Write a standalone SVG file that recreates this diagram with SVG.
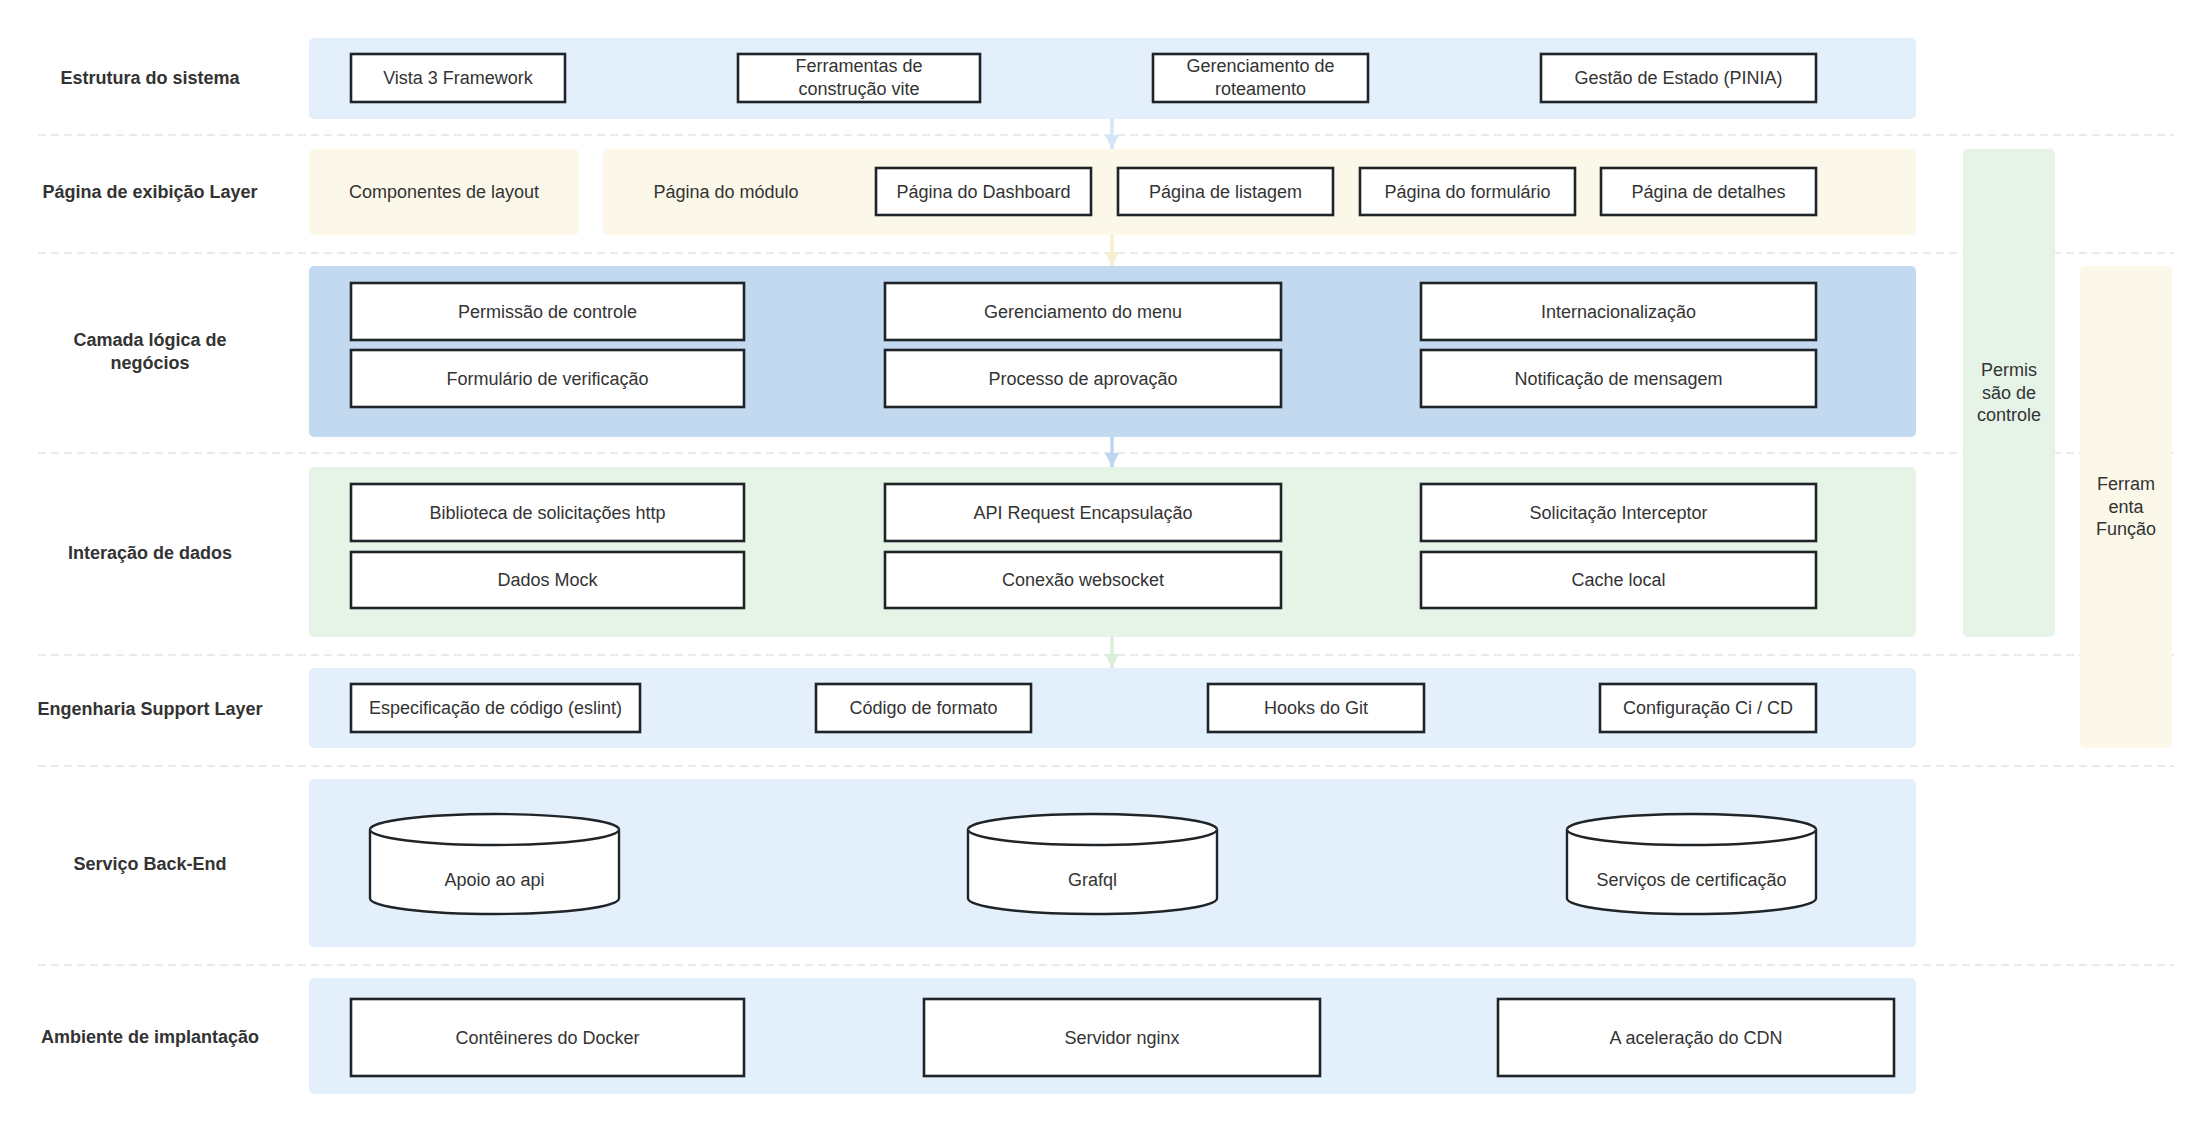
<svg xmlns="http://www.w3.org/2000/svg" width="2211" height="1132" viewBox="0 0 2211 1132">
<defs>
<style>
.lbl{font-family:"Liberation Sans",Arial,sans-serif;font-size:18px;font-weight:bold;fill:#333;text-anchor:middle;dominant-baseline:central}
.t{font-family:"Liberation Sans",Arial,sans-serif;font-size:18px;fill:#333;text-anchor:middle;dominant-baseline:central}
.box{fill:#fff;stroke:#1f2428;stroke-width:2.6}
.cyl{fill:#fff;stroke:#1f2428;stroke-width:2.4}
.dash{stroke:#e3e3e3;stroke-width:1.5;stroke-dasharray:8 5;fill:none}
.blue{fill:#e3f0fc}
.yellow{fill:#fbf8ea}
.dblue{fill:#c3d9f0}
.green{fill:#e6f4e7}
.arr{fill:none;stroke-width:3.5}
</style>
<marker id="mA1" viewBox="0 0 10 10" refX="10" refY="5" markerWidth="4" markerHeight="4" orient="auto" markerUnits="strokeWidth"><path d="M0,0 L10,5 L0,10 Z" fill="#d3e7f9"/></marker>
<marker id="mA2" viewBox="0 0 10 10" refX="10" refY="5" markerWidth="4" markerHeight="4" orient="auto" markerUnits="strokeWidth"><path d="M0,0 L10,5 L0,10 Z" fill="#f6efd2"/></marker>
<marker id="mA3" viewBox="0 0 10 10" refX="10" refY="5" markerWidth="4" markerHeight="4" orient="auto" markerUnits="strokeWidth"><path d="M0,0 L10,5 L0,10 Z" fill="#bcd6f0"/></marker>
<marker id="mA4" viewBox="0 0 10 10" refX="10" refY="5" markerWidth="4" markerHeight="4" orient="auto" markerUnits="strokeWidth"><path d="M0,0 L10,5 L0,10 Z" fill="#d9eedb"/></marker>
</defs>
<rect width="2211" height="1132" fill="#fff"/>

<g id="separators">
<line class="dash" x1="38" y1="135" x2="2174" y2="135"/>
<line class="dash" x1="38" y1="253" x2="2174" y2="253"/>
<line class="dash" x1="38" y1="453" x2="2174" y2="453"/>
<line class="dash" x1="38" y1="655" x2="2174" y2="655"/>
<line class="dash" x1="38" y1="766" x2="2174" y2="766"/>
<line class="dash" x1="38" y1="965" x2="2174" y2="965"/>
</g>

<g id="labels">
<text class="lbl" x="150" y="78">Estrutura do sistema</text>
<text class="lbl" x="150" y="192">Página de exibição Layer</text>
<text class="lbl" x="150" y="340">Camada lógica de</text>
<text class="lbl" x="150" y="363">negócios</text>
<text class="lbl" x="150" y="553">Interação de dados</text>
<text class="lbl" x="150" y="709">Engenharia Support Layer</text>
<text class="lbl" x="150" y="864">Serviço Back-End</text>
<text class="lbl" x="150" y="1037">Ambiente de implantação</text>
</g>

<g id="band-estrutura">
<rect class="blue" x="309" y="38" width="1607" height="81" rx="5"/>
</g>
<g id="band-layout">
<rect class="yellow" x="309" y="149" width="270" height="86" rx="5"/>
<text class="t" x="444" y="192">Componentes de layout</text>
</g>
<g id="band-modulo">
<rect class="yellow" x="603" y="149" width="1313" height="86" rx="5"/>
<text class="t" x="726" y="192">Página do módulo</text>
</g>
<g id="band-logica">
<rect class="dblue" x="309" y="266" width="1607" height="171" rx="5"/>
</g>
<g id="band-dados">
<rect class="green" x="309" y="467" width="1607" height="170" rx="5"/>
</g>
<g id="band-engenharia">
<rect class="blue" x="309" y="668" width="1607" height="80" rx="5"/>
</g>
<g id="band-backend">
<rect class="blue" x="309" y="779" width="1607" height="168" rx="5"/>
</g>
<g id="band-ambiente">
<rect class="blue" x="309" y="978" width="1607" height="116" rx="5"/>
</g>
<g id="side-permissao">
<rect class="green" x="1963" y="149" width="92" height="488" rx="5"/>
<text class="t" x="2009" y="370">Permis</text>
<text class="t" x="2009" y="393">são de</text>
<text class="t" x="2009" y="415">controle</text>
</g>
<g id="side-ferramenta">
<rect class="yellow" x="2080" y="266" width="92" height="482" rx="5"/>
<text class="t" x="2126" y="484">Ferram</text>
<text class="t" x="2126" y="507">enta</text>
<text class="t" x="2126" y="529">Função</text>
</g>

<g id="connectors">
<path class="arr" stroke="#d3e7f9" d="M1112,119 L1112,149" marker-end="url(#mA1)"/>
<path class="arr" stroke="#f6efd2" d="M1112,235 L1112,266" marker-end="url(#mA2)"/>
<path class="arr" stroke="#bcd6f0" d="M1112,437 L1112,467" marker-end="url(#mA3)"/>
<path class="arr" stroke="#d9eedb" d="M1112,637 L1112,668" marker-end="url(#mA4)"/>
</g>

<g id="n-vista"><rect class="box" x="351" y="54" width="214" height="48"/><text class="t" x="458" y="78">Vista 3 Framework</text></g>
<g id="n-vite"><rect class="box" x="738" y="54" width="242" height="48"/><text class="t" x="859" y="66">Ferramentas de</text><text class="t" x="859" y="89">construção vite</text></g>
<g id="n-rota"><rect class="box" x="1153" y="54" width="215" height="48"/><text class="t" x="1260.5" y="66">Gerenciamento de</text><text class="t" x="1260.5" y="89">roteamento</text></g>
<g id="n-pinia"><rect class="box" x="1541" y="54" width="275" height="48"/><text class="t" x="1678.5" y="78">Gestão de Estado (PINIA)</text></g>

<g id="n-dashboard"><rect class="box" x="876" y="168" width="215" height="47"/><text class="t" x="983.5" y="191.5">Página do Dashboard</text></g>
<g id="n-listagem"><rect class="box" x="1118" y="168" width="215" height="47"/><text class="t" x="1225.5" y="191.5">Página de listagem</text></g>
<g id="n-formulario"><rect class="box" x="1360" y="168" width="215" height="47"/><text class="t" x="1467.5" y="191.5">Página do formulário</text></g>
<g id="n-detalhes"><rect class="box" x="1601" y="168" width="215" height="47"/><text class="t" x="1708.5" y="191.5">Página de detalhes</text></g>

<g id="n-permissao"><rect class="box" x="351" y="283" width="393" height="57"/><text class="t" x="547.5" y="311.5">Permissão de controle</text></g>
<g id="n-menu"><rect class="box" x="885" y="283" width="396" height="57"/><text class="t" x="1083" y="311.5">Gerenciamento do menu</text></g>
<g id="n-i18n"><rect class="box" x="1421" y="283" width="395" height="57"/><text class="t" x="1618.5" y="311.5">Internacionalização</text></g>
<g id="n-verificacao"><rect class="box" x="351" y="350" width="393" height="57"/><text class="t" x="547.5" y="378.5">Formulário de verificação</text></g>
<g id="n-aprovacao"><rect class="box" x="885" y="350" width="396" height="57"/><text class="t" x="1083" y="378.5">Processo de aprovação</text></g>
<g id="n-notificacao"><rect class="box" x="1421" y="350" width="395" height="57"/><text class="t" x="1618.5" y="378.5">Notificação de mensagem</text></g>

<g id="n-http"><rect class="box" x="351" y="484" width="393" height="57"/><text class="t" x="547.5" y="512.5">Biblioteca de solicitações http</text></g>
<g id="n-api"><rect class="box" x="885" y="484" width="396" height="57"/><text class="t" x="1083" y="512.5">API Request Encapsulação</text></g>
<g id="n-interceptor"><rect class="box" x="1421" y="484" width="395" height="57"/><text class="t" x="1618.5" y="512.5">Solicitação Interceptor</text></g>
<g id="n-mock"><rect class="box" x="351" y="552" width="393" height="56"/><text class="t" x="547.5" y="580">Dados Mock</text></g>
<g id="n-websocket"><rect class="box" x="885" y="552" width="396" height="56"/><text class="t" x="1083" y="580">Conexão websocket</text></g>
<g id="n-cache"><rect class="box" x="1421" y="552" width="395" height="56"/><text class="t" x="1618.5" y="580">Cache local</text></g>

<g id="n-eslint"><rect class="box" x="351" y="684" width="289" height="48"/><text class="t" x="495.5" y="708">Especificação de código (eslint)</text></g>
<g id="n-formato"><rect class="box" x="816" y="684" width="215" height="48"/><text class="t" x="923.5" y="708">Código de formato</text></g>
<g id="n-hooks"><rect class="box" x="1208" y="684" width="216" height="48"/><text class="t" x="1316" y="708">Hooks do Git</text></g>
<g id="n-cicd"><rect class="box" x="1600" y="684" width="216" height="48"/><text class="t" x="1708" y="708">Configuração Ci / CD</text></g>

<g id="n-apoio">
<path class="cyl" d="M370,829.5 L370,898.5 A124.5,15.5 0 0 0 619,898.5 L619,829.5 A124.5,15.5 0 0 0 370,829.5 Z"/>
<path class="cyl" fill="none" d="M370,829.5 A124.5,15.5 0 0 0 619,829.5"/>
<text class="t" x="494.5" y="880">Apoio ao api</text>
</g>
<g id="n-grafql">
<path class="cyl" d="M968,829.5 L968,898.5 A124.5,15.5 0 0 0 1217,898.5 L1217,829.5 A124.5,15.5 0 0 0 968,829.5 Z"/>
<path class="cyl" fill="none" d="M968,829.5 A124.5,15.5 0 0 0 1217,829.5"/>
<text class="t" x="1092.5" y="880">Grafql</text>
</g>
<g id="n-certificacao">
<path class="cyl" d="M1567,829.5 L1567,898.5 A124.5,15.5 0 0 0 1816,898.5 L1816,829.5 A124.5,15.5 0 0 0 1567,829.5 Z"/>
<path class="cyl" fill="none" d="M1567,829.5 A124.5,15.5 0 0 0 1816,829.5"/>
<text class="t" x="1691.5" y="880">Serviços de certificação</text>
</g>

<g id="n-docker"><rect class="box" x="351" y="999" width="393" height="77"/><text class="t" x="547.5" y="1037.5">Contêineres do Docker</text></g>
<g id="n-nginx"><rect class="box" x="924" y="999" width="396" height="77"/><text class="t" x="1122" y="1037.5">Servidor nginx</text></g>
<g id="n-cdn"><rect class="box" x="1498" y="999" width="396" height="77"/><text class="t" x="1696" y="1037.5">A aceleração do CDN</text></g>
</svg>
